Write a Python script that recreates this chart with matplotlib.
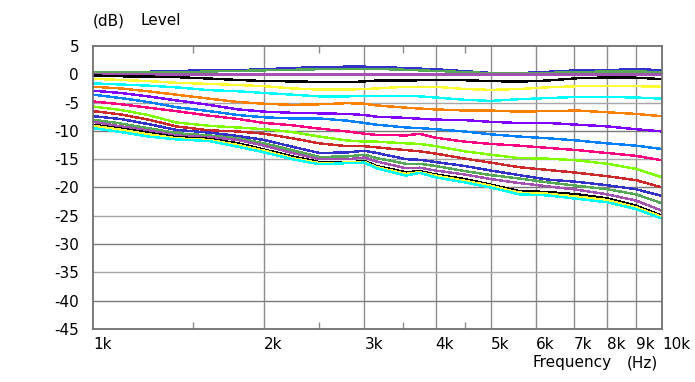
import matplotlib
matplotlib.use('Agg')
import matplotlib.pyplot as plt
from matplotlib.ticker import FixedLocator, NullLocator, NullFormatter

# frequency points (Hz)
freqs = [1000, 1120, 1250, 1400, 1600, 1800, 2000, 2240, 2500, 2800, 3000, 3150,
         3550, 3750, 4000, 4500, 5000, 5600, 6300, 7100, 8000, 9000, 10000]

# levels (dB), one list per curve, top to bottom
blue_1 = [0.1, 0.35, 0.45, 0.6, 0.7, 0.75, 0.9, 1.1, 1.3, 1.35, 1.35, 1.3,
          1.1, 1.0, 0.9, 0.55, 0.25, 0.2, 0.45, 0.7, 0.75, 0.9, 0.75]
green_1 = [0.3, 0.3, 0.3, 0.35, 0.5, 0.6, 0.7, 0.8, 0.9, 0.95, 0.95, 0.95,
           0.8, 0.7, 0.6, 0.4, 0.2, 0.15, 0.25, 0.4, 0.5, 0.5, 0.4]
purple_1 = [0.0, 0.0, 0.0, 0.0, 0.0, 0.0, 0.0, 0.0, 0.0, 0.0, 0.0, 0.0,
            0.0, 0.0, 0.0, 0.0, 0.0, 0.0, 0.0, 0.0, 0.0, 0.0, 0.0]
black_1 = [-0.2, -0.35, -0.4, -0.5, -0.75, -1.0, -1.2, -1.25, -1.35, -1.4, -1.25, -1.1,
           -1.1, -1.05, -1.05, -1.05, -1.2, -1.3, -1.1, -0.7, -0.55, -0.6, -0.85]
yellow_1 = [-0.8, -1.0, -1.2, -1.5, -1.7, -1.9, -2.1, -2.5, -2.7, -2.7, -2.6, -2.5,
            -2.2, -2.2, -2.2, -2.6, -2.75, -2.6, -2.3, -2.1, -2.1, -2.1, -2.2]
cyan_1 = [-1.6, -1.8, -2.0, -2.3, -2.8, -3.0, -3.3, -3.6, -3.9, -3.9, -3.8, -3.8,
          -3.8, -3.9, -4.1, -4.5, -4.7, -4.4, -4.2, -4.0, -4.0, -4.1, -4.3]
orange = [-2.2, -2.5, -3.0, -3.6, -4.3, -4.9, -5.2, -5.4, -5.3, -5.1, -5.2, -5.5,
          -5.9, -6.05, -6.2, -6.4, -6.4, -6.6, -6.5, -6.4, -6.7, -7.0, -7.4]
violet = [-2.9, -3.3, -3.9, -4.6, -5.4, -6.2, -6.6, -6.8, -6.9, -7.0, -7.2, -7.5,
          -7.7, -7.85, -8.0, -8.1, -8.4, -8.6, -8.6, -8.9, -9.2, -9.7, -10.1]
azure = [-3.6, -4.2, -4.9, -5.8, -6.5, -7.2, -7.6, -7.8, -7.8, -8.2, -8.6, -8.9,
         -9.4, -9.5, -9.7, -10.1, -10.6, -11.0, -11.3, -11.7, -12.2, -12.6, -13.2]
pink = [-4.8, -5.3, -5.9, -6.5, -7.3, -7.9, -8.6, -9.0, -9.6, -10.1, -10.5, -10.7,
        -10.8, -10.5, -11.2, -11.9, -12.3, -12.6, -13.0, -13.4, -13.9, -14.4, -15.2]
lime = [-5.7, -6.3, -7.2, -8.5, -9.1, -9.4, -9.7, -10.2, -11.0, -11.7, -11.9, -11.9,
        -12.2, -12.3, -12.7, -13.6, -14.2, -14.8, -14.9, -15.2, -15.8, -16.7, -18.2]
red = [-6.5, -7.1, -8.0, -9.2, -9.9, -10.1, -10.5, -11.3, -12.2, -12.7, -12.7, -12.9,
       -13.4, -13.6, -14.0, -14.9, -15.6, -16.4, -16.9, -17.4, -18.0, -18.7, -20.0]
blue_2 = [-7.4, -7.9, -8.8, -9.8, -10.3, -10.9, -11.6, -12.8, -13.9, -13.8, -13.5, -13.9,
          -15.0, -15.1, -15.5, -16.2, -17.0, -17.8, -18.6, -19.0, -19.6, -20.3, -21.5]
green_2 = [-8.0, -8.7, -9.5, -10.4, -10.8, -11.3, -12.2, -13.4, -14.6, -14.5, -14.2, -14.8,
           -15.8, -15.8, -16.2, -17.1, -17.8, -18.4, -19.1, -19.7, -20.3, -21.2, -22.8]
purple_2 = [-8.4, -9.2, -9.9, -10.8, -11.1, -11.6, -12.6, -13.9, -15.0, -15.0, -14.7, -15.4,
            -16.6, -16.5, -17.0, -17.7, -18.5, -19.2, -19.8, -20.4, -21.2, -22.3, -24.1]
black_2 = [-8.9, -9.6, -10.3, -11.1, -11.4, -12.2, -13.3, -14.5, -15.5, -15.6, -15.3, -16.2,
           -17.3, -17.1, -17.7, -18.5, -19.5, -20.6, -20.8, -21.2, -21.9, -23.2, -25.0]
yellow_2 = [-9.1, -9.8, -10.6, -11.3, -11.6, -12.5, -13.5, -14.8, -15.7, -15.6, -15.5, -16.4,
            -17.6, -17.3, -17.9, -18.8, -19.7, -20.9, -21.1, -21.6, -22.2, -23.5, -25.2]
cyan_2 = [-9.5, -10.2, -11.0, -11.5, -11.8, -12.8, -13.8, -15.0, -15.9, -15.7, -15.6, -16.6,
          -17.9, -17.4, -18.2, -19.1, -20.0, -21.2, -21.4, -22.0, -22.6, -23.8, -25.5]

x_ticks = [1000, 2000, 3000, 4000, 5000, 6000, 7000, 8000, 9000, 10000]
x_labels = ['1k', '2k', '3k', '4k', '5k', '6k', '7k', '8k', '9k', '10k']
minor_ticks = [1500, 2500, 3500, 4500]
y_ticks = [5, 0, -5, -10, -15, -20, -25, -30, -35, -40, -45]

curves = [
    (blue_1, '#3232c8'), (green_1, '#55a855'), (purple_1, '#a452b0'),
    (black_1, '#000000'), (yellow_1, '#ffff33'), (cyan_1, '#00ffff'),
    (orange, '#ff7f00'), (violet, '#8000ff'), (azure, '#0080ff'),
    (pink, '#ff0080'), (lime, '#80ff00'), (red, '#cc2a2a'),
    (blue_2, '#3232c8'), (green_2, '#55a855'), (purple_2, '#a452b0'),
    (black_2, '#000000'), (yellow_2, '#ffff33'), (cyan_2, '#00ffff'),
]

W, H = 695, 382
fig = plt.figure(figsize=(W / 100, H / 100), dpi=100)
ax = fig.add_axes([93 / W, 53 / H, 569 / W, 283 / H])

ax.set_xscale('log')
ax.set_xlim(1000, 10000)
ax.set_ylim(-45, 5)

# grid
for f in x_ticks[1:-1]:
    ax.axvline(f, color='#8c8c8c', lw=1.0, zorder=1)
for v in y_ticks[1:-1]:
    c = '#7a7a7a' if v % 10 == 0 else '#a6a6a6'
    ax.axhline(v, color=c, lw=1.0, zorder=1)

for data, color in curves:
    ax.plot(freqs, data, color=color, lw=1.0, antialiased=False, zorder=3)

ax.xaxis.set_major_locator(FixedLocator(x_ticks))
ax.xaxis.set_minor_locator(FixedLocator(minor_ticks))
ax.xaxis.set_minor_formatter(NullFormatter())
ax.set_xticklabels(x_labels)
ax.yaxis.set_major_locator(FixedLocator(y_ticks))
ax.yaxis.set_minor_locator(NullLocator())
ax.set_yticklabels([str(v) for v in y_ticks])

ax.tick_params(axis='x', which='major', length=0, pad=5.5, labelsize=11)
ax.tick_params(axis='x', which='minor', direction='in', length=5, width=1,
               color='#8c8c8c', top=True, bottom=True)
ax.tick_params(axis='y', which='major', length=0, pad=10, labelsize=11)
for lbl in ax.get_xticklabels():
    lbl.set_horizontalalignment('left')

for s in ax.spines.values():
    s.set_color('#707070')
    s.set_linewidth(1.3)
    s.set_zorder(4)

fig.text(93 / W, 1 - 25 / H, '(dB)', fontsize=11, ha='left', va='baseline')
fig.text(141 / W, 1 - 25 / H, 'Level', fontsize=11, ha='left', va='baseline')
fig.text(533 / W, 1 - 367 / H, 'Frequency', fontsize=11, ha='left', va='baseline')
fig.text(627 / W, 1 - 367 / H, '(Hz)', fontsize=11, ha='left', va='baseline')

fig.savefig('out.png', dpi=100)
